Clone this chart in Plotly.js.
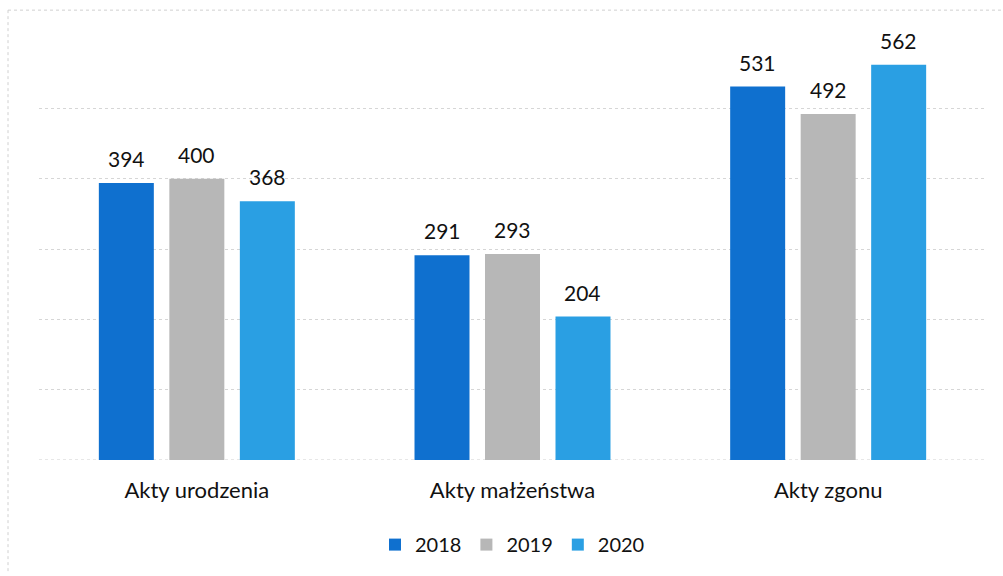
<!DOCTYPE html>
<html>
<head>
<meta charset="utf-8">
<script src="https://cdn.plot.ly/plotly-3.0.1.min.js"></script>
<style>html,body{margin:0;padding:0;background:#fff;}#chart{width:1003px;height:576px;}</style>
</head>
<body>
<div id="chart"></div>
<script>
const categories = ["Akty urodzenia", "Akty małżeństwa", "Akty zgonu"];
const seriesNames = ["2018", "2019", "2020"];
const values2018 = [394, 291, 531];
const values2019 = [400, 293, 492];
const values2020 = [368, 204, 562];
const colors = ["#0f70cf", "#b7b7b7", "#2a9fe3"];

const W = 1003, H = 576;
const margin = {l: 39, r: 17, t: 38, b: 114};
const plotW = W - margin.l - margin.r;
const plotH = H - margin.t - margin.b;
const bargap = 0.33, bargroupgap = 0.22;

const allValues = [values2018, values2019, values2020];
const font = "Lato, 'Open Sans', sans-serif";

const traces = allValues.map((vals, i) => ({
  type: "bar",
  name: seriesNames[i],
  x: categories,
  y: vals,
  marker: {color: colors[i]},
  hoverinfo: "x+y+name"
}));

// value labels above bars
const slot = (plotW / categories.length) * (1 - bargap) / allValues.length;
const annotations = [];
allValues.forEach((vals, i) => {
  const off = (i - (allValues.length - 1) / 2) * slot;
  vals.forEach((v, j) => {
    annotations.push({
      x: categories[j], y: v, xref: "x", yref: "y",
      text: String(v), showarrow: false,
      xanchor: "center", yanchor: "bottom",
      xshift: off, yshift: 10,
      font: {family: font, size: 21, color: "#111"}
    });
  });
});

const px2x = p => (p - margin.l) / plotW;
const px2y = p => (margin.t + plotH - p) / plotH;

const layout = {
  width: W, height: H,
  margin: margin,
  paper_bgcolor: "#fff", plot_bgcolor: "#fff",
  barmode: "group",
  bargap: bargap, bargroupgap: bargroupgap,
  font: {family: font, color: "#111"},
  xaxis: {
    type: "category",
    showgrid: false, zeroline: false, showline: false,
    ticks: "", ticklabelstandoff: 15,
    tickfont: {family: font, size: 22, color: "#111"}
  },
  yaxis: {
    range: [0, 600], dtick: 100,
    showticklabels: false, ticks: "",
    showgrid: true, gridcolor: "#d6d6d6", griddash: "dot", gridwidth: 1,
    zeroline: false, showline: false
  },
  showlegend: true,
  legend: {
    orientation: "h", x: 0.5, xanchor: "center",
    y: px2y(547), yanchor: "middle",
    font: {family: font, size: 20, color: "#111"},
    itemwidth: 30, traceorder: "normal"
  },
  annotations: annotations,
  shapes: [
    {type: "line", xref: "paper", yref: "paper", x0: px2x(8), x1: px2x(1003), y0: px2y(10), y1: px2y(10),
     line: {color: "#d0d0d0", width: 1, dash: "dot"}},
    {type: "line", xref: "paper", yref: "paper", x0: px2x(8), x1: px2x(8), y0: px2y(10), y1: px2y(576),
     line: {color: "#d0d0d0", width: 1, dash: "dot"}},
    {type: "line", xref: "paper", yref: "y", x0: 0, x1: 1, y0: 0, y1: 0, layer: "below",
     line: {color: "#cfcfcf", width: 1, dash: "dot"}}
  ]
};

Plotly.newPlot("chart", traces, layout, {staticPlot: true, displayModeBar: false});
</script>
</body>
</html>
